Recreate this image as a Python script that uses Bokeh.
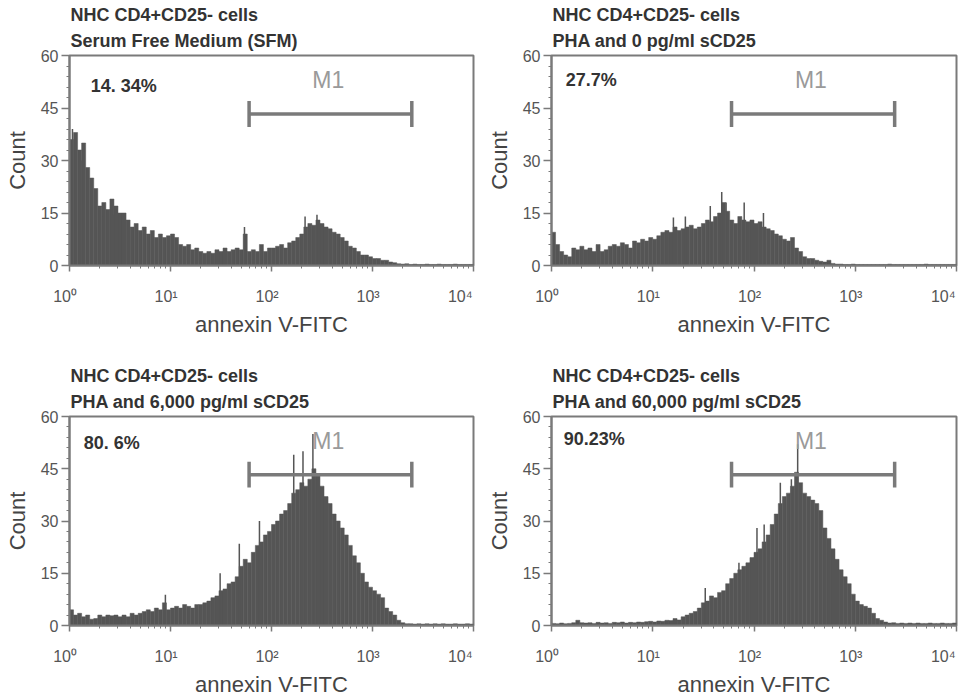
import numpy as np
from bokeh.plotting import figure
from bokeh.layouts import column, row
from bokeh.models import Range1d, FixedTicker, Title
from bokeh.embed import file_html
from bokeh.resources import INLINE
from bokeh.core.properties import value

# ---------------- data ----------------
title_line1 = ["NHC CD4+CD25- cells"] * 4
title_line2 = ["Serum Free Medium (SFM)", "PHA and 0 pg/ml sCD25",
               "PHA and 6,000 pg/ml  sCD25", "PHA and 60,000 pg/ml  sCD25"]
percent_labels = ["14. 34%", "27.7%", "80. 6%", "90.23%"]
percent_x = [1.62, 1.38, 1.38, 1.32]
percent_y = [51.4, 53.1, 52.3, 53.4]

m1_left, m1_right, m1_y, m1_cap = 60, 2450, 43.3, 3.7
m1_text_x, m1_text_y = 365, 53.0

y_ticks = [0, 15, 30, 45, 60]
x_ticks = [1, 10, 100, 1000, 10000]
x_tick_labels = ["10\u2070", "10\u00b9", "10\u00b2", "10\u00b3", "10\u2074"]

# 100 channels per histogram, 25 per decade, from 10^0 to 10^4
channels_per_decade = 25

counts_sfm = [36, 38, 33, 35, 28, 25, 22, 17, 18, 16,
              19, 17, 15, 15, 13, 11, 12, 10, 11, 9,
              10, 8, 9, 8, 8.5, 9, 8, 6, 5.5, 6,
              4.5, 5, 4, 3.5, 4, 3.5, 4.5, 4, 5, 4,
              4.5, 5, 4.5, 9, 4, 4.5, 4, 6, 4, 5,
              5, 5.5, 6, 5, 6.5, 7, 8, 9, 11, 12,
              11.5, 13, 12, 11, 10.5, 9.5, 9, 8, 7, 5.5,
              5, 4, 3, 3, 2.5, 2, 2, 1.5, 1.5, 1,
              0.8, 0.5, 0.4, 0.5, 0.3, 0.4, 0.3, 0.3, 0.4, 0.3,
              0.3, 0.4, 0.3, 0.3, 0.3, 0.4, 0.3, 0.3, 0.3, 0.3]

counts_pha0 = [9.5, 6, 4, 3, 2.5, 5, 4.5, 5.5, 4.5, 5,
               4, 6, 4, 4.5, 5.5, 6, 5.5, 6.5, 6, 5,
               7, 6.5, 7.5, 7, 8, 7.5, 8.5, 9.5, 10, 9.5,
               11, 10, 10.5, 11, 11.5, 10.5, 11, 12, 13, 12.5,
               14, 15, 18, 15.5, 13, 12, 14, 13, 12.5, 13,
               12, 12.5, 11, 10.5, 10, 9, 8.5, 7.5, 7, 8,
               5, 4, 2.5, 2, 2, 1.5, 1.2, 1.0, 1.5, 0.6,
               0.4, 0.4, 0.3, 0.3, 0.4, 0.3, 0.3, 0.3, 0.3, 0.3,
               0.3, 0.3, 0.3, 0.4, 0.3, 0.3, 0.3, 0.3, 0.3, 0.3,
               0.3, 0.3, 0.4, 0.3, 0.3, 0.3, 0.3, 0.3, 0.3, 0.3]

counts_6000 = [4.5, 3, 3.5, 2.5, 3, 1.8, 2, 3, 2.5, 3,
               2.8, 3, 2.5, 3, 2.5, 3.5, 3, 3.5, 4, 4.5,
               4, 5, 4.5, 6.5, 4.5, 5, 5.5, 5, 6, 5.5,
               5, 6, 6, 6.5, 7, 8, 8.5, 10, 10.5, 12,
               12.5, 14, 17, 19, 18, 21, 23, 24, 26, 27,
               29, 30, 32, 33, 35, 38, 39, 41, 40, 42,
               45, 43, 40, 37, 35, 32, 30, 28, 26, 23,
               20, 18, 15, 12.5, 11, 10, 9, 8, 5, 4,
               3, 1.5, 0.8, 0.5, 0.5, 0.4, 0.5, 0.4, 0.5, 0.4,
               0.5, 0.4, 0.5, 0.4, 0.4, 0.5, 0.4, 0.4, 0.5, 0.4]

counts_60000 = [0.6, 0.5, 0.7, 0.5, 0.6, 0.8, 1.5, 0.8, 0.7, 0.8,
                0.6, 0.9, 0.7, 0.8, 0.6, 0.9, 0.8, 1.0, 0.7, 0.9,
                0.8, 1.0, 0.9, 1.1, 1.2, 1.0, 1.3, 1.2, 1.5, 1.4,
                2.0, 1.6, 2.5, 3, 3.5, 4, 5, 6.5, 7, 8.5,
                8, 9.5, 10, 12, 13.5, 15, 16, 17, 18, 19.5,
                21, 22, 24, 26, 29, 32, 35, 37, 38, 40,
                44, 41, 38, 37, 36, 35, 33, 28, 25, 22,
                19, 16, 14, 12, 9, 7, 6, 5.5, 5, 3.5,
                2, 1.5, 1, 0.7, 0.8, 0.6, 0.7, 0.6, 0.7, 0.6,
                0.7, 0.6, 0.6, 0.7, 0.6, 0.6, 0.7, 0.6, 0.6, 0.7]

# isolated single-channel spikes (position on the axis, height)
spikes_sfm_x = [1.07, 1.3, 1.8, 2.15, 2.7, 54, 215, 282]
spikes_sfm_h = [39, 30, 11, 14, 14.5, 11, 14, 14.5]
spikes_pha0_x = [16, 21, 37, 48, 53, 80, 124]
spikes_pha0_h = [13.7, 14, 17, 21, 18, 18, 15]
spikes_6000_x = [8.9, 31, 48, 76, 166, 205, 257]
spikes_6000_h = [8.8, 15, 23.5, 30, 49, 50, 55]
spikes_60000_x = [33, 71, 107, 126, 182, 234, 270]
spikes_60000_h = [10.8, 18, 28, 29, 41, 42, 52]

panels = [
    (counts_sfm, spikes_sfm_x, spikes_sfm_h),
    (counts_pha0, spikes_pha0_x, spikes_pha0_h),
    (counts_6000, spikes_6000_x, spikes_6000_h),
    (counts_60000, spikes_60000_x, spikes_60000_h),
]

# ---------------- style ----------------
FONT = "Liberation Sans"
BAR = "#555555"
GREY = "#7a7a7a"

col_w = [481, 483]
col_left = [69, 70]
col_right = [8, 8]
row_h = [350, 349]
row_top = [55, 66]
row_bottom = [85, 73]

figs = []
for k, (counts, sx, sh) in enumerate(panels):
    r, c = divmod(k, 2)
    p = figure(width=col_w[c], height=row_h[r], x_axis_type="log",
               x_range=Range1d(1, 10000), y_range=Range1d(0, 60),
               output_backend="svg", toolbar_location=None, tools="",
               min_border_left=col_left[c], min_border_right=col_right[c],
               min_border_top=row_top[r], min_border_bottom=row_bottom[r],
               title=title_line1[k])
    p.title.text_font = FONT
    p.title.text_font_size = "18px"
    p.title.text_font_style = "bold"
    p.title.text_color = "#333333"
    p.title.align = "left"
    p.title.offset = 1
    p.title.standoff = 0
    p.add_layout(Title(text=title_line2[k], text_font=FONT, text_font_size="18px",
                       text_font_style="bold", text_color="#333333", align="left",
                       offset=1, standoff=9), "above")

    n = len(counts)
    edges = 10 ** (np.arange(n + 1) / channels_per_decade)
    p.quad(left=edges[:-1], right=edges[1:], bottom=0, top=counts,
           fill_color=BAR, line_color=BAR, line_width=0.5)
    p.segment(x0=sx, y0=[0] * len(sx), x1=sx, y1=sh, line_color=BAR, line_width=1.5)

    # M1 marker
    p.segment(x0=[m1_left], y0=[m1_y], x1=[m1_right], y1=[m1_y],
              line_color=GREY, line_width=3.5)
    p.segment(x0=[m1_left, m1_right], y0=[m1_y - m1_cap] * 2,
              x1=[m1_left, m1_right], y1=[m1_y + m1_cap] * 2,
              line_color=GREY, line_width=3.5)
    p.text(x=[m1_text_x], y=[m1_text_y], text=["M1"], text_font=value(FONT),
           text_font_size="23px", text_color="#9a9a9a", text_align="center",
           text_baseline="middle")
    p.text(x=[percent_x[k]], y=[percent_y[k]], text=[percent_labels[k]],
           text_font=value(FONT), text_font_size="18px", text_font_style="bold",
           text_color="#333333", text_align="left", text_baseline="middle")

    p.xgrid.visible = False
    p.ygrid.visible = False
    p.outline_line_color = GREY
    p.outline_line_width = 2
    p.background_fill_color = "white"
    p.border_fill_color = "white"

    minor_x = [m * 10 ** d for d in range(4) for m in range(2, 10)]
    p.xaxis.ticker = FixedTicker(ticks=x_ticks, minor_ticks=minor_x)
    # non-breaking padding shifts the "10" left of its tick, as in the original
    p.xaxis.major_label_overrides = {t: l + "\u00a0\u00a0" for t, l in zip(x_ticks, x_tick_labels)}
    p.yaxis.ticker = FixedTicker(ticks=y_ticks, minor_ticks=list(range(0, 61, 3)))

    for ax in (p.xaxis[0], p.yaxis[0]):
        ax.axis_line_color = GREY
        ax.axis_line_width = 2
        ax.major_tick_line_color = GREY
        ax.minor_tick_line_color = GREY
        ax.major_tick_line_width = 1.5
        ax.major_label_text_font = FONT
        ax.major_label_text_font_size = "16px"
        ax.major_label_text_color = "#555555"
        ax.axis_label_text_font = FONT
        ax.axis_label_text_font_size = "22px"
        ax.axis_label_text_font_style = "normal"
        ax.axis_label_text_color = "#444444"

    p.xaxis.axis_label = "annexin V-FITC"
    p.xaxis.major_tick_out = 6
    p.xaxis.major_tick_in = 0
    p.xaxis.minor_tick_out = 3
    p.xaxis.minor_tick_in = 0
    p.xaxis.major_label_standoff = 16
    p.xaxis.axis_label_standoff = 4

    p.yaxis.axis_label = "Count"
    p.yaxis.major_tick_out = 8
    p.yaxis.major_tick_in = 0
    p.yaxis.minor_tick_out = 3
    p.yaxis.minor_tick_in = 0
    p.yaxis.major_label_standoff = 3
    p.yaxis.axis_label_standoff = 8
    figs.append(p)

layout = column(row(figs[0], figs[1]), row(figs[2], figs[3]))
open("out.html", "w").write(file_html(layout, INLINE))
